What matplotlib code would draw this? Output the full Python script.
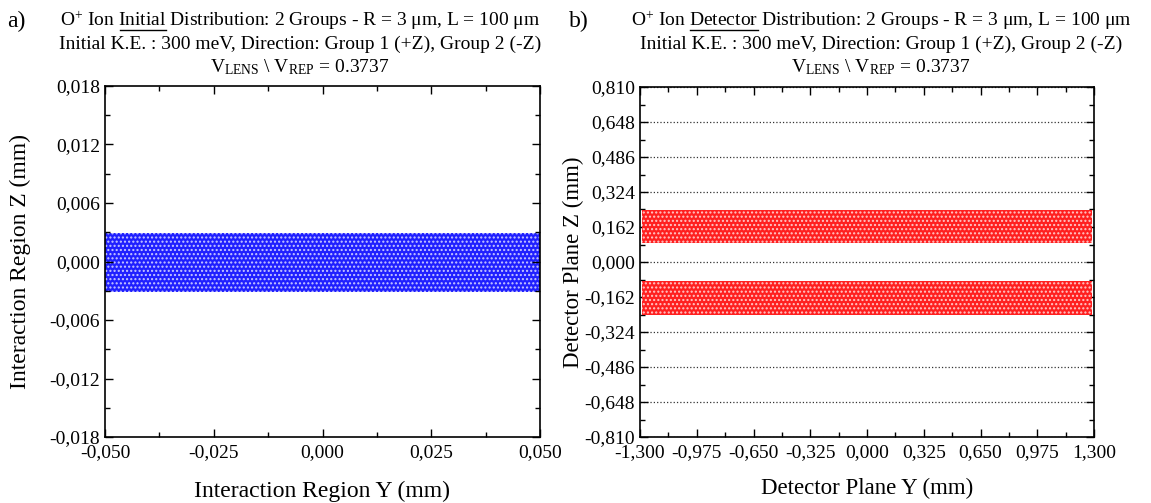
import matplotlib
matplotlib.use('Agg')
import matplotlib.pyplot as plt
from matplotlib.ticker import MultipleLocator, FuncFormatter
from matplotlib.lines import Line2D

plt.rcParams['font.family'] = ['Liberation Serif', 'DejaVu Serif']
plt.rcParams['mathtext.fontset'] = 'custom'
plt.rcParams['mathtext.rm'] = 'Liberation Serif'
plt.rcParams['mathtext.it'] = 'Liberation Serif:italic'
plt.rcParams['hatch.linewidth'] = 1.0

# ion cloud extents (mm)
INIT_Y = [-0.050, 0.050]
INIT_Z = [-0.0031, 0.0029]
DET_Y = [-1.29, 1.29]
DET_Z_UP = [0.086, 0.241]
DET_Z_DN = [-0.246, -0.090]

WORDS = ['Initial', 'Detector']
PRE = r'O$^{+}$ Ion '
POST = ' Distribution: 2 Groups - R = 3 μm, L = 100 μm'
LINE2 = 'Initial K.E. : 300 meV, Direction: Group 1 (+Z), Group 2 (-Z)'
LINE3 = r'V$_{\mathrm{LENS}}$ $\backslash$ V$_{\mathrm{REP}}$ = 0.3737'

TFS = 14


def comma(dec):
    def f(v, p):
        if abs(v) < 1e-12:
            v = 0.0
        return f'{v:.{dec}f}'.replace('.', ',')
    return FuncFormatter(f)


def style(ax):
    ax.tick_params(which='both', direction='in', top=True, right=True, labelsize=14)
    ax.tick_params(which='major', length=6, width=1.0)
    ax.tick_params(which='minor', length=3.5, width=1.0)
    ax.tick_params(axis='x', pad=5)
    for s in ax.spines.values():
        s.set_linewidth(1.2)


fig = plt.figure(figsize=(11.51, 5.03), dpi=100)
ax1 = fig.add_axes([105 / 1151, 1 - 437 / 503, 435 / 1151, 351 / 503])
ax2 = fig.add_axes([640 / 1151, 1 - 437 / 503, 454 / 1151, 350 / 503])

# a) initial distribution
ax1.fill_between(INIT_Y, INIT_Z[0], INIT_Z[1], facecolor='#2020ff',
                 edgecolor='#c8c8ff', hatch='....', linewidth=0)
ax1.set_xlim(-0.05, 0.05)
ax1.set_ylim(-0.018, 0.018)
ax1.xaxis.set_major_locator(MultipleLocator(0.025))
ax1.xaxis.set_minor_locator(MultipleLocator(0.0125))
ax1.yaxis.set_major_locator(MultipleLocator(0.006))
ax1.yaxis.set_minor_locator(MultipleLocator(0.003))
ax1.xaxis.set_major_formatter(comma(3))
ax1.yaxis.set_major_formatter(comma(3))
ax1.set_xlabel('Interaction Region Y (mm)', fontsize=17, labelpad=14)
ax1.set_ylabel('Interaction Region Z (mm)', fontsize=17, labelpad=13)
style(ax1)

# b) detector distribution
for band in (DET_Z_UP, DET_Z_DN):
    ax2.fill_between(DET_Y, band[0], band[1], facecolor='#ff2020',
                     edgecolor='#ffc8c8', hatch='....', linewidth=0, zorder=2)
ax2.set_xlim(-1.3, 1.3)
ax2.set_ylim(-0.81, 0.81)
ax2.xaxis.set_major_locator(MultipleLocator(0.325))
ax2.xaxis.set_minor_locator(MultipleLocator(0.1625))
ax2.yaxis.set_major_locator(MultipleLocator(0.162))
ax2.yaxis.set_minor_locator(MultipleLocator(0.081))
ax2.xaxis.set_major_formatter(comma(3))
ax2.yaxis.set_major_formatter(comma(3))
ax2.yaxis.grid(True, which='major', linestyle=':', color='#333333', linewidth=0.9)
ax2.set_axisbelow(True)
ax2.set_xlabel('Detector Plane Y (mm)', fontsize=16.5, labelpad=12)
ax2.set_ylabel('Detector Plane Z (mm)', fontsize=16.5, labelpad=0)
style(ax2)

# titles, with the key word underlined
renderer = fig.canvas.get_renderer()
W, H = 1151, 503
for xc, word in ((300, WORDS[0]), (881, WORDS[1])):
    full = fig.text(xc / W, 1 - 26 / H, PRE + word + POST, ha='center',
                    va='baseline', fontsize=TFS)
    fw = full.get_window_extent(renderer).width
    t_end = fig.text(0, 0, PRE + word, fontsize=TFS)
    t_w = fig.text(0, 0, word, fontsize=TFS)
    end = t_end.get_window_extent(renderer).width
    ww = t_w.get_window_extent(renderer).width
    t_end.remove()
    t_w.remove()
    x0 = xc - fw / 2 + end - ww
    fig.add_artist(Line2D([x0 / W, (x0 + ww) / W], [1 - 29.5 / H, 1 - 29.5 / H],
                          color='black', linewidth=1.0))
    fig.text(xc / W, 1 - 49 / H, LINE2, ha='center', va='baseline', fontsize=TFS)
    fig.text(xc / W, 1 - 72 / H, LINE3, ha='center', va='baseline', fontsize=TFS)
fig.text(7 / W, 1 - 27 / H, 'a)', ha='left', va='baseline', fontsize=17)
fig.text(569 / W, 1 - 27 / H, 'b)', ha='left', va='baseline', fontsize=17)

fig.savefig('out.png', dpi=100)
